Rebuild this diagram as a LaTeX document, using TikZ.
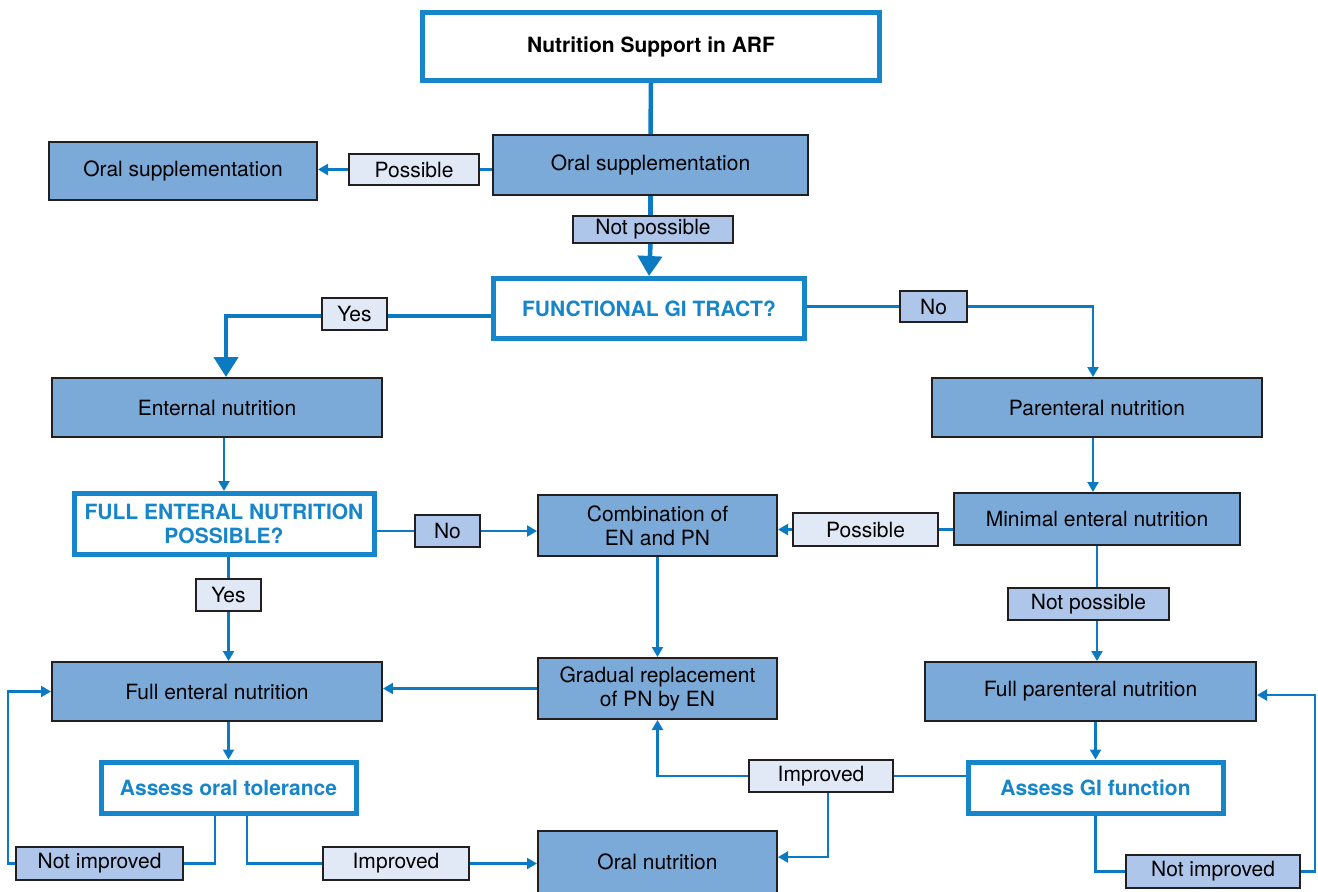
\documentclass[tikz,border=0pt]{standalone}
\usepackage{fontspec}
\setmainfont{TeX Gyre Heros}
\usetikzlibrary{arrows.meta}
\definecolor{flowblue}{RGB}{12,122,194}
\definecolor{framblue}{RGB}{22,133,201}
\definecolor{boxfill}{RGB}{123,170,217}
\definecolor{boxedge}{RGB}{35,31,32}
\definecolor{tagpale}{RGB}{225,232,246}
\definecolor{tagmid}{RGB}{174,198,234}
\tikzset{
  every node/.style={font=\fontsize{21}{24}\selectfont, inner sep=0pt, align=center},
  stepbox/.style={draw=boxedge, line width=2pt, fill=boxfill, text=black},
  askbox/.style={draw=framblue, line width=5pt, fill=white, text=framblue, font=\fontsize{21}{24}\selectfont\bfseries},
  tagpal/.style={draw=boxedge, line width=2pt, fill=tagpale},
  tagdark/.style={draw=boxedge, line width=2pt, fill=tagmid},
  wire/.style={draw=flowblue, line width=2.2pt},
  arrowwire/.style={wire, -{Triangle[length=10pt,width=11pt]}},
  heavy/.style={draw=flowblue, line width=4.5pt},
  heavyarrow/.style={heavy, -{Triangle[length=20pt,width=24pt]}},
}
\begin{document}
\begin{tikzpicture}[x=1pt,y=-1pt]
\useasboundingbox (0,0) rectangle (1318,892);
\clip (0,0) rectangle (1318,892);

% boxes
\node[askbox, text=black, minimum width=457, minimum height=68] (title) at (651,46.5) {Nutrition Support in ARF};
\node[stepbox, minimum width=315, minimum height=60] (oralM) at (650.5,165) {Oral supplementation};
\node[stepbox, minimum width=268, minimum height=58] (oralL) at (183,171) {Oral supplementation};
\node[askbox, minimum width=311, minimum height=60] (gi) at (649,308.5) {FUNCTIONAL GI TRACT?};
\node[stepbox, minimum width=330, minimum height=59] (en) at (217,407.5) {Enternal nutrition};
\node[stepbox, minimum width=330, minimum height=59] (pn) at (1097,407.5) {Parenteral nutrition};
\node[askbox, minimum width=300, minimum height=61] (fen) at (224,524) {FULL ENTERAL NUTRITION\\POSSIBLE?};
\node[stepbox, minimum width=239, minimum height=61] (comb) at (657.5,525.5) {Combination of\\EN and PN};
\node[stepbox, minimum width=286, minimum height=52] (min) at (1097,519) {Minimal enteral nutrition};
\node[stepbox, minimum width=330, minimum height=59] (fenut) at (217,691.5) {Full enteral nutrition};
\node[stepbox, minimum width=239, minimum height=61] (grad) at (657.5,688.5) {Gradual replacement\\of PN by EN};
\node[stepbox, minimum width=331, minimum height=59] (fpn) at (1090.5,691.5) {Full parenteral nutrition};
\node[askbox, minimum width=255, minimum height=51] (aot) at (228.5,787.5) {Assess oral tolerance};
\node[askbox, minimum width=255, minimum height=51] (agi) at (1095.5,787.5) {Assess GI function};
\node[stepbox, minimum width=239, minimum height=70] (oral) at (657.5,866) {};
\node at (657.5,862) (oraltext) {Oral nutrition};

% branch labels
\node[tagpal, minimum width=130, minimum height=31] (lPoss1) at (414,169.5) {Possible};
\node[tagdark, minimum width=160, minimum height=27] (lNotPoss1) at (653,229.5) {Not possible};
\node[tagpal, minimum width=65, minimum height=32] (lYes1) at (354.5,314) {Yes};
\node[tagdark, minimum width=67, minimum height=31] (lNo1) at (933.5,306.5) {No};
\node[tagdark, minimum width=65, minimum height=32] (lNo2) at (447.5,531) {No};
\node[tagpal, minimum width=145, minimum height=33] (lPoss2) at (865.5,529.5) {Possible};
\node[tagdark, minimum width=161, minimum height=32] (lNotPoss2) at (1088.5,604) {Not possible};
\node[tagpal, minimum width=65, minimum height=32] (lYes2) at (228.5,595) {Yes};
\node[tagdark, minimum width=167, minimum height=33] (lNI1) at (99.5,863.5) {Not improved};
\node[tagpal, minimum width=146, minimum height=33] (lImp1) at (396,863.5) {Improved};
\node[tagpal, minimum width=144, minimum height=32] (lImp2) at (821,776) {Improved};
\node[tagdark, minimum width=174, minimum height=33] (lNI2) at (1213,871.5) {Not improved};

% turning points at the outer edges
\coordinate (leftrail) at (8,691.5);
\coordinate (rightrail) at (1315,695);

% connectors
\draw[heavy] (title.south) -- (oralM.north);
\draw[wire] (oralM.west |- lPoss1.center) -- (lPoss1.east);
\draw[arrowwire] (lPoss1.west) -- (oralL.east |- lPoss1.center);
\draw[heavy] (oralM.south) -- (oralM.south |- lNotPoss1.north);
\draw[heavyarrow] (oralM.south |- lNotPoss1.south) -- (gi.north);
\draw[heavy] ([yshift=-2pt]gi.west |- lYes1.center) -- ([yshift=-2pt]lYes1.east);
\draw[heavyarrow] ([yshift=-2pt]lYes1.west) -| ([xshift=9pt]en.north);
\draw[wire] (gi.east |- lNo1.center) -- (lNo1.west);
\draw[arrowwire] (lNo1.east) -| ([xshift=-4pt]pn.north);
\draw[arrowwire] (fen.north |- en.south) -- (fen.north);
\draw[wire] (fen.east |- lNo2.center) -- (lNo2.west);
\draw[arrowwire] (lNo2.east) -- (comb.west |- lNo2.east);
\draw[wire] (min.west |- lPoss2.center) -- (lPoss2.east);
\draw[arrowwire] (lPoss2.west) -- (comb.east |- lPoss2.west);
\draw[arrowwire] ([xshift=-4pt]pn.south) -- ([xshift=-4pt]min.north);
\draw[wire] (min.south) -- (min.south |- lNotPoss2.north);
\draw[arrowwire] (min.south |- lNotPoss2.south) -- (min.south |- fpn.north);
\draw[wire] (lYes2.north |- fen.south) -- (lYes2.north);
\draw[arrowwire] (lYes2.south) -- (lYes2.south |- fenut.north);
\draw[arrowwire] (comb.south) -- (grad.north);
\draw[arrowwire] (grad.west) -- (fenut.east |- grad.west);
\draw[arrowwire] (aot.north |- fenut.south) -- (aot.north);
\draw[arrowwire] (agi.north |- fpn.south) -- (agi.north);
\draw[wire] ([xshift=-13.5pt]aot.south) |- (lNI1.east);
\draw[arrowwire] (lNI1.west) -| (leftrail) -- (fenut.west |- leftrail);
\draw[wire] ([xshift=18.5pt]aot.south) |- (lImp1.west);
\draw[arrowwire] (lImp1.east) -- (oral.west |- lImp1.east);
\draw[wire] (agi.west |- lImp2.center) -- (lImp2.east);
\draw[arrowwire] (lImp2.west) -| (grad.south);
\draw[arrowwire] ([xshift=7pt]lImp2.south) |- ([yshift=9pt]oral.east);
\draw[wire] (agi.south) |- (lNI2.west);
\draw[arrowwire] (lNI2.east) -| (rightrail) -- (fpn.east |- rightrail);
\end{tikzpicture}
\end{document}
